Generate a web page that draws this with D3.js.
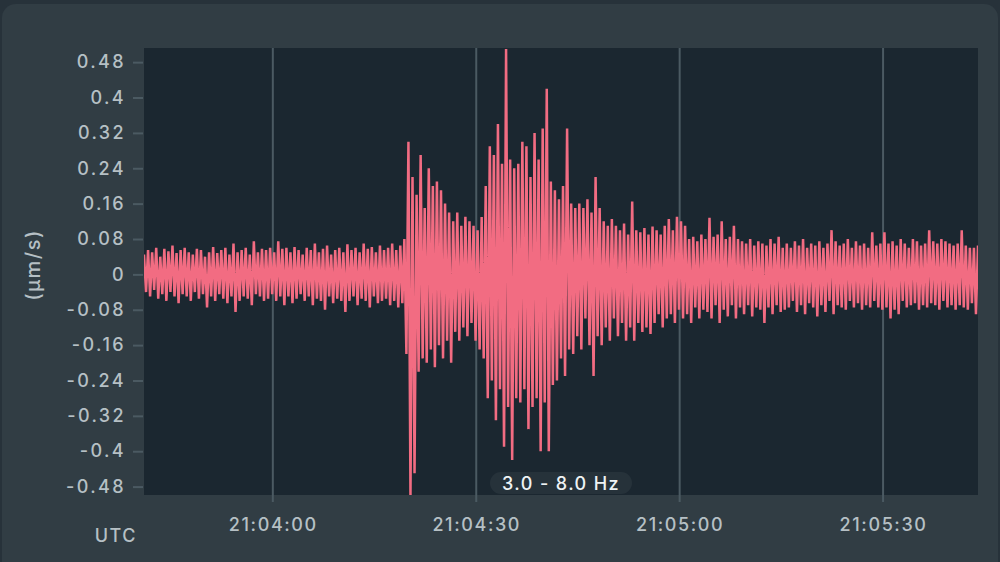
<!DOCTYPE html>
<html>
<head>
<meta charset="utf-8">
<script src="https://cdn.jsdelivr.net/npm/d3@7"></script>
<style>
  html, body { margin: 0; padding: 0; background: #27323a; }
  svg { display: block; }
</style>
</head>
<body>
<svg id="chart" width="1000" height="562"></svg>
<script>
// ---- data ----
const yTicks = [-0.48, -0.4, -0.32, -0.24, -0.16, -0.08, 0, 0.08, 0.16, 0.24, 0.32, 0.4, 0.48];
const yTickLabels = ["-0.48", "-0.4", "-0.32", "-0.24", "-0.16", "-0.08", "0", "0.08", "0.16", "0.24", "0.32", "0.4", "0.48"];
const xTickTimes = ["21:04:00", "21:04:30", "21:05:00", "21:05:30"];
const startTime = "21:03:41";
const endTime = "21:05:44";
const sampleInterval = 0.3; // seconds between samples
const yLabel = "(µm/s)";
const xLabel = "UTC";
const bandLabel = "3.0 - 8.0 Hz";

// positive swings of the velocity trace (one per oscillation)
const upperPeaks = [
  0.045, 0.055, 0.05, 0.06, 0.04, 0.058, 0.052, 0.065, 0.048, 0.055,
  0.06, 0.05, 0.045, 0.058, 0.055, 0.04, 0.05, 0.062, 0.048, 0.055,
  0.06, 0.045, 0.07, 0.05, 0.055, 0.06, 0.045, 0.075, 0.05, 0.058,
  0.055, 0.06, 0.05, 0.075, 0.058, 0.06, 0.05, 0.062, 0.055, 0.045,
  0.06, 0.055, 0.07, 0.05, 0.058, 0.065, 0.045, 0.055, 0.06, 0.05,
  0.068, 0.055, 0.06, 0.05, 0.07, 0.058, 0.062, 0.05, 0.065, 0.055,
  0.06, 0.07, 0.055, 0.065,
  0.08, 0.30, 0.22, 0.18, 0.27, 0.15, 0.24, 0.20, 0.21, 0.19,
  0.16, 0.14, 0.12, 0.14, 0.11, 0.13, 0.12, 0.11, 0.10, 0.13,
  0.20, 0.29, 0.27, 0.34, 0.25, 0.51, 0.26, 0.24, 0.25, 0.30,
  0.29, 0.22, 0.32, 0.26, 0.33, 0.42, 0.21, 0.19, 0.17, 0.20,
  0.33, 0.16, 0.15, 0.16, 0.15, 0.17, 0.14, 0.22, 0.15,
  0.12, 0.11, 0.125, 0.11, 0.10, 0.115, 0.09, 0.165, 0.10, 0.095,
  0.105, 0.09, 0.108, 0.10, 0.09, 0.11, 0.125, 0.10, 0.13, 0.12,
  0.11, 0.08, 0.085, 0.075, 0.09, 0.08, 0.128, 0.085, 0.09, 0.12,
  0.08, 0.085, 0.11, 0.08, 0.075, 0.07, 0.08, 0.065, 0.075, 0.07,
  0.065, 0.08, 0.07, 0.085, 0.06,
  0.07, 0.06, 0.075, 0.065, 0.08, 0.06, 0.07, 0.065, 0.075, 0.06,
  0.07, 0.10, 0.075, 0.065, 0.07, 0.08, 0.06, 0.075, 0.065, 0.07,
  0.06, 0.095, 0.065, 0.07, 0.095, 0.07, 0.075, 0.065, 0.08, 0.07,
  0.06, 0.08, 0.075, 0.065, 0.07, 0.10, 0.075, 0.07, 0.08, 0.075,
  0.07, 0.065, 0.07, 0.10, 0.065, 0.06, 0.06, 0.065
];
// negative swings of the velocity trace (one per oscillation)
const lowerPeaks = [
  -0.04, -0.05, -0.035, -0.055, -0.045, -0.06, -0.04, -0.05, -0.065, -0.045,
  -0.05, -0.06, -0.04, -0.055, -0.045, -0.075, -0.05, -0.06, -0.045, -0.055,
  -0.065, -0.05, -0.085, -0.06, -0.05, -0.055, -0.07, -0.045, -0.05, -0.06,
  -0.055, -0.045, -0.06, -0.05, -0.07, -0.05, -0.065, -0.055, -0.045, -0.06,
  -0.05, -0.07, -0.055, -0.06, -0.08, -0.05, -0.065, -0.055, -0.06, -0.085,
  -0.06, -0.05, -0.07, -0.055, -0.06, -0.075, -0.05, -0.065, -0.06, -0.055,
  -0.07, -0.06, -0.075, -0.065,
  -0.18, -0.50, -0.45, -0.22, -0.19, -0.20, -0.17, -0.21, -0.16, -0.19,
  -0.15, -0.20, -0.13, -0.15, -0.12, -0.14, -0.11, -0.15, -0.17, -0.19,
  -0.28, -0.24, -0.33, -0.26, -0.39, -0.30, -0.42, -0.28, -0.29, -0.26,
  -0.35, -0.30, -0.28, -0.40, -0.29, -0.40, -0.25, -0.24, -0.19, -0.23,
  -0.17, -0.18, -0.14, -0.17, -0.10, -0.16, -0.23, -0.14, -0.16,
  -0.12, -0.15, -0.10, -0.14, -0.11, -0.15, -0.12, -0.15, -0.11, -0.13,
  -0.12, -0.135, -0.11, -0.09, -0.12, -0.10, -0.09, -0.11, -0.08, -0.10,
  -0.09, -0.11, -0.075, -0.10, -0.08, -0.085, -0.10, -0.07, -0.11, -0.08,
  -0.095, -0.07, -0.10, -0.075, -0.09, -0.07, -0.095, -0.075, -0.08, -0.11,
  -0.075, -0.09, -0.07, -0.085, -0.08,
  -0.075, -0.06, -0.085, -0.07, -0.09, -0.065, -0.075, -0.095, -0.07, -0.085,
  -0.06, -0.09, -0.07, -0.075, -0.08, -0.06, -0.075, -0.065, -0.08, -0.07,
  -0.075, -0.06, -0.075, -0.08, -0.075, -0.10, -0.08, -0.09, -0.06, -0.075,
  -0.07, -0.065, -0.08, -0.07, -0.075, -0.065, -0.07, -0.08, -0.06, -0.075,
  -0.07, -0.08, -0.07, -0.075, -0.08, -0.065, -0.09, -0.085
];

// ---- build trace: peak, trough, peak, trough ... ----
const parseT = d3.timeParse("%H:%M:%S");
const t0 = parseT(startTime);
const trace = [];
upperPeaks.forEach((u, i) => {
  trace.push(u);
  trace.push(lowerPeaks[i]);
});
const traceData = trace.map((v, i) => ({ t: new Date(t0.getTime() + i * sampleInterval * 1000), v }));

// ---- layout ----
const svg = d3.select("#chart");
const W = 1000, H = 562;
const plot = { left: 144, right: 978, top: 48, bottom: 495 };
const font = "Inter, 'Open Sans', sans-serif";

svg.append("rect").attr("x", 2).attr("y", 4).attr("width", W - 4).attr("height", H + 20)
  .attr("rx", 14).attr("fill", "#313d44");

svg.append("rect").attr("x", plot.left).attr("y", plot.top)
  .attr("width", plot.right - plot.left).attr("height", plot.bottom - plot.top)
  .attr("fill", "#1b2730");

const x = d3.scaleTime().domain([parseT(startTime), parseT(endTime)]).range([plot.left, plot.right]);
const y = d3.scaleLinear().domain([-0.499, 0.512]).range([plot.bottom, plot.top]);

const gridColor = "#4b5a62";
const textColor = "#b6c0c5";

// vertical grid lines + x tick marks
const xTicks = xTickTimes.map(parseT);
svg.append("g").selectAll("line").data(xTicks).join("line")
  .attr("x1", d => x(d)).attr("x2", d => x(d))
  .attr("y1", plot.top).attr("y2", plot.bottom + 7)
  .attr("stroke", gridColor).attr("stroke-width", 2);

// x axis labels
const xAxis = d3.axisBottom(x).tickValues(xTicks).tickFormat(d3.timeFormat("%H:%M:%S")).tickSize(0).tickPadding(0);
const gx = svg.append("g").attr("transform", `translate(0, ${plot.bottom + 23})`).call(xAxis);
gx.select(".domain").remove();
gx.selectAll("text").attr("fill", textColor).attr("font-size", 18).attr("font-weight", 500)
  .attr("font-family", font).attr("letter-spacing", "1.6px")
  .attr("dy", "0.71em");

// y axis
const yAxis = d3.axisLeft(y).tickValues(yTicks).tickFormat((d, i) => yTickLabels[i]).tickSize(10).tickPadding(7);
const gy = svg.append("g").attr("transform", `translate(${plot.left - 1}, 0)`).call(yAxis);
gy.select(".domain").remove();
gy.selectAll("line").attr("stroke", gridColor).attr("stroke-width", 2);
gy.selectAll("text").attr("fill", textColor).attr("font-size", 18).attr("font-weight", 500)
  .attr("font-family", font).attr("letter-spacing", "2.4px");

// clip
svg.append("clipPath").attr("id", "clip").append("rect")
  .attr("x", plot.left).attr("y", plot.top - 2)
  .attr("width", plot.right - plot.left).attr("height", plot.bottom - plot.top + 2);

// trace
const line = d3.line().x(d => x(d.t)).y(d => y(d.v));
svg.append("path").datum(traceData)
  .attr("clip-path", "url(#clip)")
  .attr("d", line)
  .attr("fill", "none")
  .attr("stroke", "#f26c82")
  .attr("stroke-width", 2.5)
  .attr("stroke-linejoin", "miter")
  .attr("stroke-miterlimit", 2);

// axis titles
svg.append("text").attr("transform", "translate(40, 265) rotate(-90)")
  .attr("text-anchor", "middle").attr("fill", textColor).attr("font-size", 20).attr("font-weight", 500)
  .attr("font-family", font).attr("letter-spacing", "1.5px")
  .text(yLabel);

svg.append("text").attr("x", 137).attr("y", 542).attr("text-anchor", "end")
  .attr("fill", textColor).attr("font-size", 18).attr("font-weight", 500)
  .attr("font-family", font).attr("letter-spacing", "1.5px")
  .text(xLabel);

// band label pill
const pill = svg.append("g");
pill.append("rect").attr("x", 490).attr("y", 472).attr("width", 142).attr("height", 22)
  .attr("rx", 11).attr("fill", "#27333b").attr("opacity", 0.95);
pill.append("text").attr("x", 561).attr("y", 490).attr("text-anchor", "middle")
  .attr("fill", "#eef2f4").attr("font-size", 18).attr("font-weight", 500)
  .attr("font-family", font).attr("letter-spacing", "1.4px")
  .text(bandLabel);
</script>
</body>
</html>
